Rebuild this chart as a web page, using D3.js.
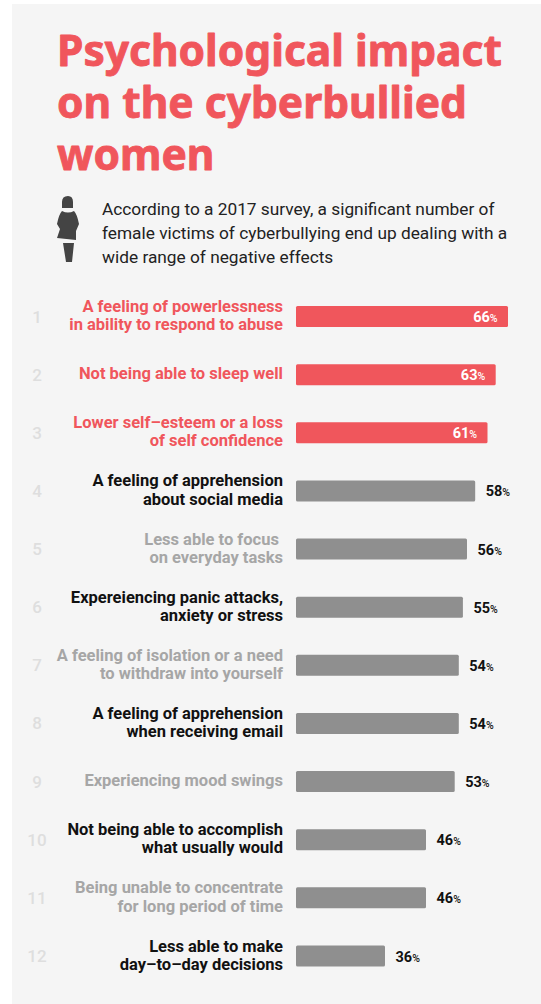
<!DOCTYPE html>
<html><head><meta charset="utf-8">
<script src="https://cdnjs.cloudflare.com/ajax/libs/d3/7.8.5/d3.min.js"></script>
<style>html,body{margin:0;padding:0;background:#fff}svg{display:block}text{font-family:Roboto,sans-serif;white-space:pre}</style>
</head><body><svg id="c" width="541" height="1004"></svg>
<script>
const titleLines = ["Psychological impact","on the cyberbullied","women"];
const introLines = ["According to a 2017 survey, a significant number of","female victims of cyberbullying end up dealing with a","wide range of negative effects"];
const ranks = [1,2,3,4,5,6,7,8,9,10,11,12];
const labels = [
 ["A feeling of powerlessness","in ability to respond to abuse"],
 ["Not being able to sleep well"],
 ["Lower self–esteem or a loss","of self confidence"],
 ["A feeling of apprehension","about social media"],
 ["Less able to focus ","on everyday tasks"],
 ["Expereiencing panic attacks,","anxiety or stress"],
 ["A feeling of isolation or a need","to withdraw into yourself"],
 ["A feeling of apprehension","when receiving email"],
 ["Experiencing mood swings"],
 ["Not being able to accomplish","what usually would"],
 ["Being unable to concentrate","for long period of time"],
 ["Less able to make","day–to–day decisions"]];
const values = [66,63,61,58,56,55,54,54,53,46,46,36];
const labelTones = ["red","red","red","dark","light","dark","light","dark","light","dark","light","dark"];
const toneColor = {red:"#f0565c",dark:"#111",light:"#a6a6a6"};

const svg = d3.select("#c");
svg.append("rect").attr("x",12).attr("y",4).attr("width",529).attr("height",1000).attr("fill","#f5f5f5");

svg.append("g").selectAll("text").data(titleLines).join("text")
 .attr("x",57).attr("y",(d,i)=>66+i*52)
 .attr("font-size",42.5).attr("font-weight",700).attr("fill","#f0565c")
 .attr("stroke","#f0565c").attr("stroke-width",0.9).attr("stroke-linejoin","round")
 .style("font-family","'Noto Sans',sans-serif").text(d=>d);

svg.append("path").attr("fill","#444")
 .attr("d","M62 208 L62 202 Q62 196 68 196 Q73 196 73 202 L73 208 Z M62 211 Q68 214 74 211 Q77 214 79 224 L76 231 L76 240 L57 238 L60 229 L57 224 Q59 214 62 211 Z M63 243 L74 243 L72 262 L66 262 Z");

svg.append("g").selectAll("text").data(introLines).join("text")
 .attr("x",102).attr("y",(d,i)=>215+i*24)
 .attr("font-size",17.3).attr("fill","#222").text(d=>d);

const y = d3.scalePoint().domain(ranks).range([316.5,956]);
const x = d3.scaleLinear().domain([36,66]).range([385,508]);
const x0 = 296, bh = 21;

const rows = svg.append("g").selectAll("g").data(ranks).join("g")
 .attr("transform",d=>`translate(0,${y(d)})`);

rows.append("text").attr("x",37).attr("y",6).attr("text-anchor","middle")
 .attr("font-size",17).attr("font-weight",500).attr("fill","#dedede").text(d=>d);

rows.append("rect").attr("x",x0).attr("y",-bh/2).attr("rx",1.5)
 .attr("width",(d,i)=>x(values[i])-x0).attr("height",bh)
 .attr("fill",(d,i)=>i<3?"#f0565c":"#8f8f8f");

rows.each(function(d,i){
 const g = d3.select(this), ls = labels[i];
 g.selectAll("text.l").data(ls).join("text").attr("class","l")
  .attr("x",283).attr("y",(t,k)=>(ls.length===1?4.5:-4.5)+k*18.2)
  .attr("text-anchor","end").attr("font-size",16.5).attr("font-weight",700)
  .attr("fill",toneColor[labelTones[i]]).text(t=>t);
 const inside = i<3;
 const v = g.append("text").attr("y",5.5)
  .attr("x",inside?x(values[i])-10.5:x(values[i])+10.5)
  .attr("text-anchor",inside?"end":"start")
  .attr("font-size",14.5).attr("font-weight",700)
  .attr("fill",inside?"#fff":"#111");
 v.append("tspan").text(values[i]);
 v.append("tspan").attr("font-size",10.5).attr("font-weight",500).text("%");
});
</script></body></html>
